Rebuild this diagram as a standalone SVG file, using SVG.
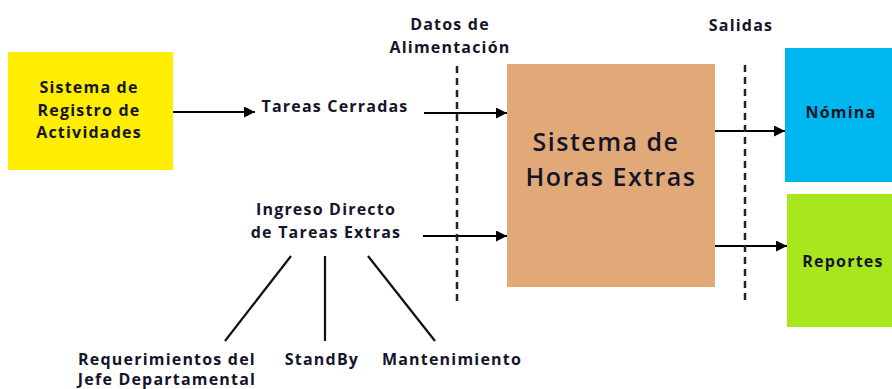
<svg xmlns="http://www.w3.org/2000/svg" width="892" height="389" viewBox="0 0 892 389">
<defs>
<marker id="ah" viewBox="0 0 10 10" refX="10" refY="5" markerWidth="5" markerHeight="5" orient="auto" markerUnits="strokeWidth">
<path d="M0,0 L10,5 L0,10 z" fill="#000"/>
</marker>
<style>
text{font-family:"Open Sans","Liberation Sans",sans-serif;font-weight:bold;font-size:16px;letter-spacing:1.2px;fill:#15152a;text-anchor:middle}
.big{font-size:25px;font-weight:600;letter-spacing:1.5px}
.arrow{stroke:#000;stroke-width:2.2;fill:none;marker-end:url(#ah)}
.line{stroke:#111;stroke-width:2.2;fill:none}
.dash{stroke:#222;stroke-width:2.5;stroke-dasharray:7,5;fill:none}
</style>
</defs>
<rect width="892" height="389" fill="#fff"/>
<g id="registro">
<rect x="8" y="52" width="165" height="118" fill="#FFEE00"/>
<text x="89" y="93">Sistema de</text>
<text x="89" y="116">Registro de</text>
<text x="89" y="138">Actividades</text>
</g>
<g id="tareas-cerradas">
<text x="335" y="112">Tareas Cerradas</text>
</g>
<g id="ingreso-directo">
<text x="326" y="215">Ingreso Directo</text>
<text x="326" y="238">de Tareas Extras</text>
</g>
<g id="datos">
<text x="450" y="30">Datos de</text>
<text x="450" y="53">Alimentación</text>
</g>
<g id="salidas">
<text x="741" y="31">Salidas</text>
</g>
<g id="horas-extras">
<rect x="507" y="64" width="208" height="223" fill="#E2A978"/>
<text class="big" x="606" y="151">Sistema de</text>
<text class="big" x="611" y="186">Horas Extras</text>
</g>
<g id="nomina">
<rect x="785" y="48" width="107" height="134" fill="#00B6EE"/>
<text x="841" y="118">Nómina</text>
</g>
<g id="reportes">
<rect x="787" y="194" width="105" height="133" fill="#A8E61E"/>
<text x="843" y="267">Reportes</text>
</g>
<g id="requerimientos">
<text x="167" y="365">Requerimientos del</text>
<text x="167" y="385">Jefe Departamental</text>
</g>
<g id="standby">
<text x="322" y="365">StandBy</text>
</g>
<g id="mantenimiento">
<text x="452" y="365">Mantenimiento</text>
</g>
<g id="connectors">
<line class="arrow" x1="173" y1="112" x2="255" y2="112"/>
<line class="arrow" x1="424" y1="113" x2="507" y2="113"/>
<line class="arrow" x1="423" y1="236" x2="507" y2="236"/>
<line class="arrow" x1="715" y1="131" x2="785" y2="131"/>
<line class="arrow" x1="715" y1="246" x2="787" y2="246"/>
<line class="dash" x1="457" y1="66" x2="457" y2="303"/>
<line class="dash" x1="745" y1="65" x2="745" y2="303"/>
<line class="line" x1="291" y1="256" x2="225" y2="341"/>
<line class="line" x1="325" y1="256" x2="325" y2="341"/>
<line class="line" x1="368" y1="256" x2="435" y2="341"/>
</g>
</svg>
